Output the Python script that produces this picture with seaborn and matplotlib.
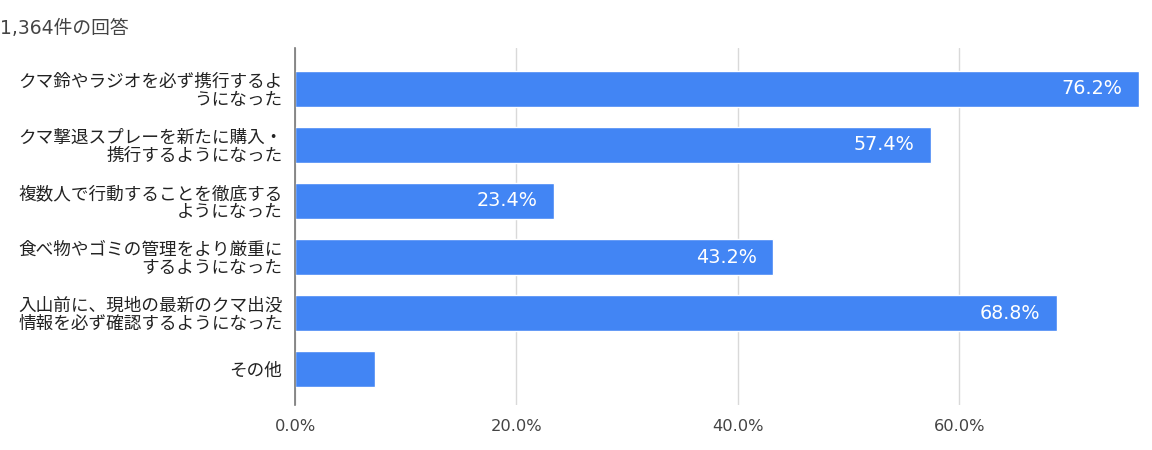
import matplotlib
matplotlib.use("Agg")
import matplotlib.pyplot as plt
import seaborn as sns
import pandas as pd

categories = [
    "クマ鈴やラジオを必ず携行するよ\nうになった",
    "クマ撃退スプレーを新たに購入・\n携行するようになった",
    "複数人で行動することを徹底する\nようになった",
    "食べ物やゴミの管理をより厳重に\nするようになった",
    "入山前に、現地の最新のクマ出没\n情報を必ず確認するようになった",
    "その他",
]
values = [76.2, 57.4, 23.4, 43.2, 68.8, 7.2]
show_label = [True, True, True, True, True, False]
x_ticks = [0, 20, 40, 60]
x_tick_labels = ["0.0%", "20.0%", "40.0%", "60.0%"]
title = "1,364件の回答"

sns.set_theme(style="white")
plt.rcParams["font.family"] = ["Noto Sans CJK JP", "DejaVu Sans"]
latin_first = ["DejaVu Sans", "Noto Sans CJK JP"]

df = pd.DataFrame({"cat": categories, "val": values})

fig = plt.figure(figsize=(11.52, 4.5), dpi=100)
ax = fig.add_axes([295 / 1152, 1 - 405 / 450, (1140 - 295) / 1152, (405 - 48) / 450])

sns.barplot(data=df, x="val", y="cat", orient="h", color="#4285F4",
            saturation=1, width=0.64, ax=ax, zorder=3)

ax.set_xlim(0, 76.3)
ax.set_ylim(5.64, -0.73)
ax.set_xticks(x_ticks)
ax.set_xticklabels(x_tick_labels, fontsize=11.7, color="#444444", family=latin_first)
ax.tick_params(axis="x", length=0, pad=10)
ax.tick_params(axis="y", length=0, pad=9)
for lbl in ax.get_yticklabels():
    lbl.set_fontsize(12.7)
    lbl.set_color("#222222")
    lbl.set_linespacing(1.0)
    lbl.set_ha("right")
ax.set_xlabel("")
ax.set_ylabel("")
ax.xaxis.grid(True, color="#d9d9d9", linewidth=1, zorder=0)
ax.set_axisbelow(True)
for s in ["top", "right", "bottom"]:
    ax.spines[s].set_visible(False)
ax.spines["left"].set_color("#777777")
ax.spines["left"].set_linewidth(1.2)
ax.spines["left"].set_zorder(5)

for i, (v, show) in enumerate(zip(values, show_label)):
    if show:
        ax.annotate(f"{v:.1f}%", xy=(v, i), xytext=(-12, 0), textcoords="offset points",
                    ha="right", va="center", color="white", fontsize=13.8, zorder=6,
                    family=latin_first)

fig.text(0, 1 - 28 / 450, title, ha="left", va="center", fontsize=13.5, color="#444444",
         family=latin_first)

fig.savefig("out.png", dpi=100)
